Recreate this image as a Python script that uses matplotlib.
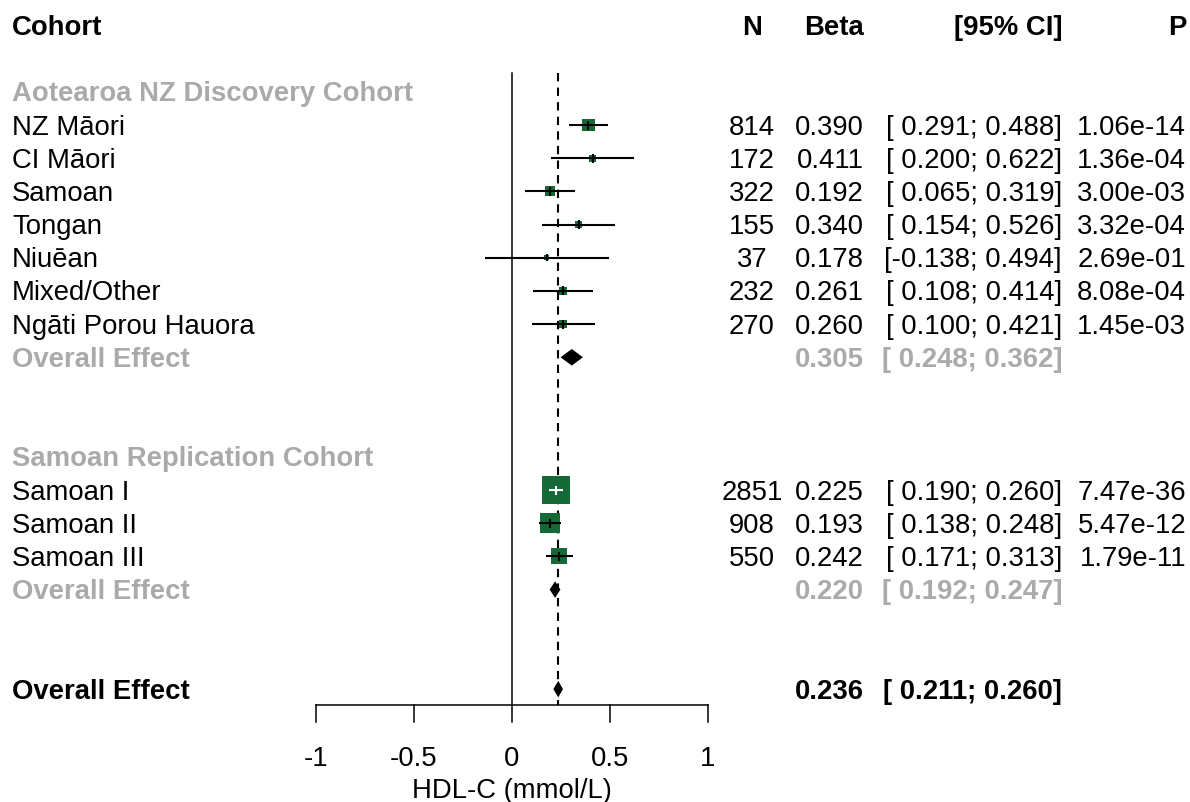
import numpy as np
import matplotlib
matplotlib.use("Agg")
import matplotlib.pyplot as plt
from matplotlib.patches import Rectangle, Polygon

plt.rcParams['font.family'] = ['Liberation Sans', 'DejaVu Sans']

# study data
disc_names = ["NZ Māori", "CI Māori", "Samoan", "Tongan", "Niuēan", "Mixed/Other", "Ngāti Porou Hauora"]
disc_n = [814, 172, 322, 155, 37, 232, 270]
disc_beta = [0.390, 0.411, 0.192, 0.340, 0.178, 0.261, 0.260]
disc_lo = [0.291, 0.200, 0.065, 0.154, -0.138, 0.108, 0.100]
disc_hi = [0.488, 0.622, 0.319, 0.526, 0.494, 0.414, 0.421]
disc_p = [1.06e-14, 1.36e-04, 3.00e-03, 3.32e-04, 2.69e-01, 8.08e-04, 1.45e-03]

rep_names = ["Samoan I", "Samoan II", "Samoan III"]
rep_n = [2851, 908, 550]
rep_beta = [0.225, 0.193, 0.242]
rep_lo = [0.190, 0.138, 0.171]
rep_hi = [0.260, 0.248, 0.313]
rep_p = [7.47e-36, 5.47e-12, 1.79e-11]

# pooled estimates: (beta, lo, hi)
disc_pool = (0.305, 0.248, 0.362)
rep_pool = (0.220, 0.192, 0.247)
all_pool = (0.236, 0.211, 0.260)

xticks = [-1, -0.5, 0, 0.5, 1]
xtick_labels = ["-1", "-0.5", "0", "0.5", "1"]

GREEN = '#176837'
GRAY = '#aaaaaa'
FS = 19.8

W, H = 1190, 802
X0, XS = 512, 196.0        # pixel of x=0, pixels per unit
Y0, YS = 25.5, 33.18       # pixel of row 0, pixels per row
TOFF = 2.5 / YS            # text sits a touch lower than the marks


def px(x):
    return (x - X0) / XS


fig = plt.figure(figsize=(W / 100, H / 100), dpi=100)
ax = fig.add_axes([0, 0, 1, 1])
ax.set_xlim(px(0), px(W))
ax.set_ylim((H - Y0) / YS, -Y0 / YS)
ax.axis('off')


def txt(x, r, s, **kw):
    ax.text(x, r + TOFF, s, va='center', fontsize=FS, **kw)


# header
txt(px(12), 0, "Cohort", ha='left', fontweight='bold')
txt(px(752), 0, "N", ha='center', fontweight='bold')
txt(px(864), 0, "Beta", ha='right', fontweight='bold')
txt(px(1062), 0, "[95% CI]", ha='right', fontweight='bold')
txt(px(1186), 0, "P", ha='right', fontweight='bold')

# weights -> square size
all_lo = np.array(disc_lo + rep_lo)
all_hi = np.array(disc_hi + rep_hi)
w = 1 / ((all_hi - all_lo) / 3.92) ** 2
sides = 28 * (w / w.max()) ** 0.4


def ci_str(lo, hi):
    return f"[{lo:6.3f};{hi:6.3f}]"


def study_row(r, name, n, b, lo, hi, p, side):
    txt(px(12), r, name, ha='left')
    txt(px(752), r, str(n), ha='center')
    txt(px(864), r, f"{b:.3f}", ha='right')
    txt(px(1062), r, ci_str(lo, hi), ha='right')
    txt(px(1186), r, f"{p:.2e}", ha='right')
    sw = side / XS
    sh = side / YS
    ax.add_patch(Rectangle((b - sw / 2, r - sh / 2), sw, sh, color=GREEN, lw=0, zorder=3))
    inside = (b - lo) < sw / 2 and (hi - b) < sw / 2
    col = 'white' if inside else 'black'
    ax.plot([lo, hi], [r, r], color=col, lw=1.5, zorder=4, solid_capstyle='butt')
    th = min(9.0, side + 2) / YS
    ax.plot([b, b], [r - th / 2, r + th / 2], color=col, lw=1.5, zorder=4, solid_capstyle='butt')


def pooled_row(r, label, pool, color):
    b, lo, hi = pool
    txt(px(12), r, label, ha='left', fontweight='bold', color=color)
    txt(px(864), r, f"{b:.3f}", ha='right', fontweight='bold', color=color)
    txt(px(1062), r, ci_str(lo, hi), ha='right', fontweight='bold', color=color)
    dh = 0.25
    ax.add_patch(Polygon([(lo, r), (b, r - dh), (hi, r), (b, r + dh)], closed=True,
                         color='black', lw=0, zorder=4))


# discovery cohort
txt(px(12), 2, "Aotearoa NZ Discovery Cohort", ha='left', fontweight='bold', color=GRAY)
for i in range(len(disc_names)):
    study_row(3 + i, disc_names[i], disc_n[i], disc_beta[i], disc_lo[i], disc_hi[i],
              disc_p[i], sides[i])
pooled_row(10, "Overall Effect", disc_pool, GRAY)

# replication cohort
txt(px(12), 13, "Samoan Replication Cohort", ha='left', fontweight='bold', color=GRAY)
for i in range(len(rep_names)):
    study_row(14 + i, rep_names[i], rep_n[i], rep_beta[i], rep_lo[i], rep_hi[i],
              rep_p[i], sides[len(disc_names) + i])
pooled_row(17, "Overall Effect", rep_pool, GRAY)

pooled_row(20, "Overall Effect", all_pool, 'black')

# reference lines
r_top = (73 - Y0) / YS
r_axis = (705 - Y0) / YS
ax.plot([0, 0], [r_top, r_axis], color='black', lw=1.1, zorder=2)
ax.plot([all_pool[0]] * 2, [r_top, r_axis], color='black', lw=1.5,
        linestyle=(0, (4, 3)), zorder=2)

# x axis
r_tick = (722 - Y0) / YS
ax.plot([xticks[0], xticks[-1]], [r_axis, r_axis], color='black', lw=1.1)
for t, lab in zip(xticks, xtick_labels):
    ax.plot([t, t], [r_axis, r_tick], color='black', lw=1.1)
    txt(t, (757 - Y0) / YS, lab, ha='center')
txt(0, (788 - Y0) / YS, "HDL-C (mmol/L)", ha='center')

fig.savefig("out.png", dpi=100)
